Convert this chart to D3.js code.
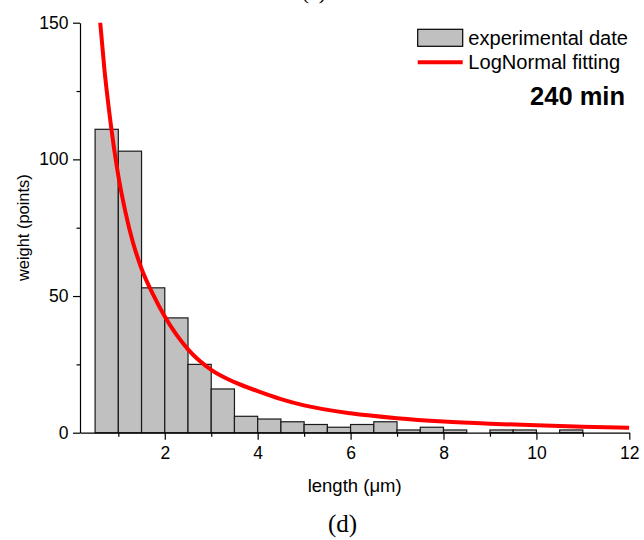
<!DOCTYPE html>
<html>
<head>
<meta charset="utf-8">
<script src="https://cdn.jsdelivr.net/npm/d3@7"></script>
<style>
body { margin: 0; background: #fff; }
svg { display: block; }
</style>
</head>
<body>
<svg id="chart" width="644" height="540"></svg>
<script>
// histogram: bin start (um) and counts, bin width 0.5
var binStarts = [0.5, 1, 1.5, 2, 2.5, 3, 3.5, 4, 4.5, 5, 5.5, 6, 6.5, 7, 7.5, 8, 8.5, 9, 9.5, 10, 10.5, 11, 11.5];
var binCounts = [111, 103, 53, 42, 25, 16, 6, 5, 4, 3, 2, 3, 4, 1, 2, 1, 0, 1, 1, 0, 1, 0, 0];
var binWidth = 0.5;

// lognormal fit
var fitX = [0.60, 0.70, 0.80, 0.90, 1.00, 1.15, 1.30, 1.50, 1.75, 2.00, 2.50, 3.00, 3.50, 4.00, 4.50, 5.00, 6.00, 7.00, 8.00, 9.00, 10.0, 11.0, 12.0];
var fitY = [152, 133, 118, 105, 94, 81, 70.5, 60, 50.5, 42.5, 30.5, 23, 18.5, 15.2, 12.3, 10.0, 7.1, 5.3, 4.1, 3.3, 2.7, 2.2, 1.8];

var xTicks = [2, 4, 6, 8, 10, 12],
	xMinorTicks = [1, 3, 5, 7, 9, 11],
	yTicks = [0, 50, 100, 150],
	yMinorTicks = [25, 75, 125];

var legendLabels = ["experimental date", "LogNormal fitting"],
	sampleLabel = "240 min",
	xTitle = "length (\u03bcm)",
	yTitle = "weight (points)";

var font = "'Liberation Sans', Arial, sans-serif",
	serif = "'Liberation Serif', 'Times New Roman', serif";

var svg = d3.select("svg#chart"),
	margin = {top: 22.7, right: 14.7, bottom: 107.3, left: 80},
	W = +svg.attr("width"),
	H = +svg.attr("height");

var x = d3.scaleLinear().domain([0.175, 12]).range([margin.left, W - margin.right]),
	y = d3.scaleLinear().domain([0, 150]).range([H - margin.bottom, margin.top]);

svg.append("defs").append("clipPath")
	.attr("id", "plotclip")
	.append("rect")
	.attr("x", margin.left)
	.attr("y", margin.top)
	.attr("width", W - margin.left - margin.right)
	.attr("height", H - margin.top - margin.bottom);

var bins = binStarts.map(function(s, i) { return {x0: s, x1: s + binWidth, n: binCounts[i]}; })
	.filter(function(d) { return d.n > 0; });

svg.append("g").selectAll("rect")
	.data(bins)
	.enter().append("rect")
	.attr("x", function(d) { return x(d.x0); })
	.attr("y", function(d) { return y(d.n); })
	.attr("width", function(d) { return x(d.x1) - x(d.x0); })
	.attr("height", function(d) { return y(0) - y(d.n); })
	.attr("fill", "#c0c0c0")
	.attr("stroke", "#1a1a1a")
	.attr("stroke-width", 1.2);

var line = d3.line()
	.curve(d3.curveMonotoneX)
	.x(function(d) { return x(d[0]); })
	.y(function(d) { return y(d[1]); });

svg.append("path")
	.datum(d3.zip(fitX, fitY))
	.attr("clip-path", "url(#plotclip)")
	.attr("fill", "none")
	.attr("stroke", "#ff0000")
	.attr("stroke-width", 4)
	.attr("d", line);

// axes
function styleAxis(sel) {
	sel.attr("font-family", font).attr("font-size", 17.5);
	sel.selectAll("path, line").attr("stroke", "#000").attr("stroke-width", 1.2);
	sel.selectAll("text").attr("fill", "#000");
}

svg.append("g")
	.attr("transform", "translate(0," + y(0) + ")")
	.call(d3.axisBottom(x).tickValues(xTicks).tickSize(7).tickSizeOuter(0).tickPadding(6.5))
	.call(styleAxis);

svg.append("g")
	.attr("transform", "translate(0," + y(0) + ")")
	.call(d3.axisBottom(x).tickValues(xMinorTicks).tickSize(4).tickFormat(""))
	.call(styleAxis)
	.select(".domain").remove();

svg.append("g")
	.attr("transform", "translate(" + margin.left + ",0)")
	.call(d3.axisLeft(y).tickValues(yTicks).tickSize(7).tickSizeOuter(0).tickPadding(4.5))
	.call(styleAxis);

svg.append("g")
	.attr("transform", "translate(" + margin.left + ",0)")
	.call(d3.axisLeft(y).tickValues(yMinorTicks).tickSize(3.5).tickFormat(""))
	.call(styleAxis)
	.select(".domain").remove();

svg.append("text")
	.attr("x", (x.range()[0] + x.range()[1]) / 2)
	.attr("y", 492)
	.attr("text-anchor", "middle")
	.attr("font-family", font)
	.attr("font-size", 18.5)
	.text(xTitle);

svg.append("text")
	.attr("transform", "translate(28.5," + ((y.range()[0] + y.range()[1]) / 2) + ") rotate(-90)")
	.attr("text-anchor", "middle")
	.attr("font-family", font)
	.attr("font-size", 16.4)
	.text(yTitle);

// legend
var leg = svg.append("g").attr("transform", "translate(417.7,0)");
leg.append("rect")
	.attr("x", 0).attr("y", 29.3)
	.attr("width", 45).attr("height", 17)
	.attr("fill", "#c0c0c0")
	.attr("stroke", "#000")
	.attr("stroke-width", 1.2);
leg.append("line")
	.attr("x1", 0).attr("x2", 45)
	.attr("y1", 62.3).attr("y2", 62.3)
	.attr("stroke", "#ff0000")
	.attr("stroke-width", 4);
leg.selectAll("text.lab")
	.data(legendLabels)
	.enter().append("text")
	.attr("class", "lab")
	.attr("x", 50.6)
	.attr("y", function(d, i) { return 44.8 + i * 24.5; })
	.attr("font-family", font)
	.attr("font-size", 20.1)
	.text(function(d) { return d; });

svg.append("text")
	.attr("x", 625)
	.attr("y", 104.8)
	.attr("text-anchor", "end")
	.attr("font-family", font)
	.attr("font-weight", "bold")
	.attr("font-size", 25.5)
	.text(sampleLabel);

// panel letters (the upper one is cut by the page edge, as in the source figure)
svg.append("text")
	.attr("x", 314).attr("y", -1.5)
	.attr("text-anchor", "middle")
	.attr("font-family", serif)
	.attr("font-size", 22)
	.text("(c)");

svg.append("text")
	.attr("x", 342.5).attr("y", 531.5)
	.attr("text-anchor", "middle")
	.attr("font-family", serif)
	.attr("font-size", 25)
	.text("(d)");
</script>
</body>
</html>
